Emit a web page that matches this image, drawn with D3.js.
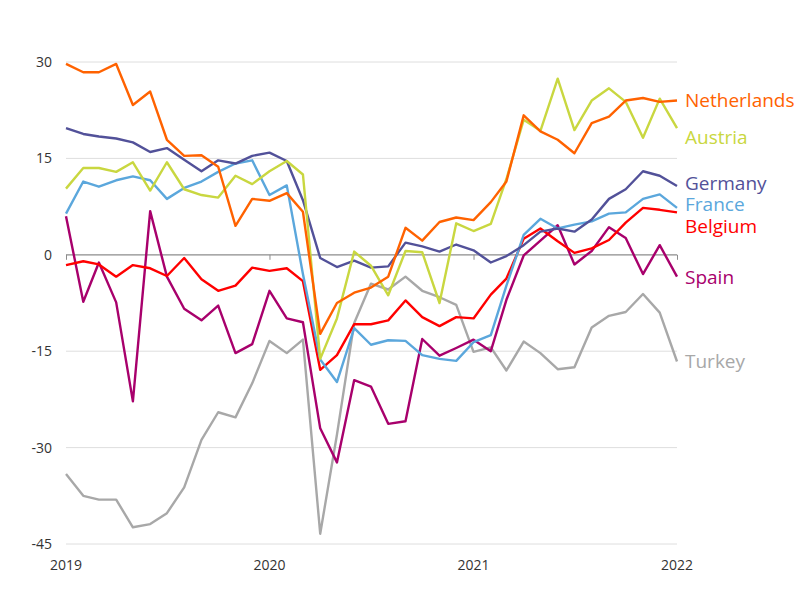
<!DOCTYPE html>
<html>
<head>
<meta charset="utf-8">
<script src="https://cdn.jsdelivr.net/npm/d3@7"></script>
<style>
  body { margin: 0; background: #fff; }
  text { font-family: "Open Sans", "Noto Sans", sans-serif; }
</style>
</head>
<body>
<script>
var width = 800,
    height = 606,
    margin = {top: 62, right: 123, bottom: 62, left: 66};

// monthly, Jan 2019 .. Jan 2022
var months = d3.range(37).map(function(i) { return new Date(2019, i, 1); });

var netherlands = [29.7, 28.4, 28.4, 29.7, 23.3, 25.4, 17.9, 15.4, 15.5, 13.7, 4.5, 8.7, 8.4,
                   9.6, 6.7, -12.3, -7.5, -5.9, -5.1, -3.4, 4.2, 2.2, 5.1, 5.8, 5.4,
                   8.2, 11.4, 21.7, 19.2, 17.9, 15.8, 20.5, 21.5, 24.0, 24.4, 23.8, 24.0];
var austria = [10.3, 13.5, 13.5, 12.9, 14.4, 10.0, 14.4, 10.2, 9.3, 8.9, 12.3, 11.0, 13.0,
               14.6, 12.5, -16.2, -9.9, 0.5, -1.7, -6.3, 0.6, 0.4, -7.5, 4.9, 3.7,
               4.8, 11.8, 21.0, 19.3, 27.4, 19.4, 24.0, 25.9, 23.8, 18.2, 24.3, 19.7];
var germany = [19.7, 18.8, 18.4, 18.1, 17.5, 16.0, 16.6, 14.8, 13.0, 14.7, 14.2, 15.4, 15.9,
               14.6, 8.5, -0.5, -1.9, -0.9, -2.0, -1.8, 1.9, 1.3, 0.5, 1.6, 0.7,
               -1.2, -0.2, 1.5, 3.6, 4.1, 3.6, 5.5, 8.7, 10.2, 13.0, 12.3, 10.7];
var france = [6.4, 11.4, 10.6, 11.6, 12.2, 11.6, 8.7, 10.4, 11.4, 12.9, 14.2, 14.7, 9.3,
              10.8, -3.0, -16.3, -19.8, -11.4, -14.0, -13.3, -13.4, -15.6, -16.2, -16.5, -13.6,
              -12.5, -4.8, 3.1, 5.6, 4.1, 4.7, 5.2, 6.4, 6.6, 8.7, 9.4, 7.3];
var belgium = [-1.6, -1.0, -1.5, -3.4, -1.6, -2.1, -3.3, -0.5, -3.8, -5.6, -4.8, -2.0, -2.5,
               -2.1, -4.1, -17.9, -15.6, -10.8, -10.8, -10.2, -7.1, -9.7, -11.1, -9.7, -9.9,
               -6.2, -3.7, 2.5, 4.1, 2.1, 0.3, 1.0, 2.3, 5.0, 7.3, 7.0, 6.6];
var spain = [6.0, -7.3, -1.2, -7.4, -22.8, 6.8, -3.4, -8.4, -10.2, -7.9, -15.3, -13.9, -5.6,
             -9.9, -10.5, -27.0, -32.3, -19.5, -20.5, -26.3, -25.9, -13.1, -15.7, -14.5, -13.2,
             -15.0, -7.0, -0.1, 2.2, 4.6, -1.5, 0.6, 4.3, 2.6, -3.0, 1.5, -3.4];
var turkey = [-34.1, -37.5, -38.1, -38.1, -42.4, -41.9, -40.2, -36.2, -28.8, -24.5, -25.3, -20.0, -13.4,
              -15.3, -13.2, -43.4, -28.0, -10.6, -4.5, -5.4, -3.4, -5.6, -6.6, -7.8, -15.1,
              -14.4, -18.0, -13.5, -15.3, -17.8, -17.5, -11.3, -9.5, -8.9, -6.1, -9.0, -16.6];

var yTicks = [30, 15, 0, -15, -30, -45];
var yearTicks = [2019, 2020, 2021, 2022];

var series = [
  {name: "Netherlands", values: netherlands, color: "#ff6200", labelY: 100},
  {name: "Austria",     values: austria,     color: "#c9d740", labelY: 137},
  {name: "Germany",     values: germany,     color: "#525199", labelY: 183},
  {name: "France",      values: france,      color: "#5ba7dc", labelY: 204},
  {name: "Belgium",     values: belgium,     color: "#ff0000", labelY: 226},
  {name: "Spain",       values: spain,       color: "#a8006c", labelY: 277},
  {name: "Turkey",      values: turkey,      color: "#a8a8a8", labelY: 361}
];

var svg = d3.select("body")
            .append("svg")
            .attr("width", width)
            .attr("height", height);

var x = d3.scaleTime()
          .domain([months[0], months[months.length - 1]])
          .range([margin.left, width - margin.right]);

var y = d3.scaleLinear()
          .domain([-45, 30])
          .range([544, 62]);

// gridlines
svg.append("g")
   .selectAll("line")
   .data(yTicks)
   .enter().append("line")
   .attr("x1", x.range()[0])
   .attr("x2", x.range()[1])
   .attr("y1", function(d) { return y(d); })
   .attr("y2", function(d) { return y(d); })
   .attr("stroke", function(d) { return d === 0 ? "#8c8c8c" : "#dedede"; })
   .attr("stroke-width", function(d) { return d === 0 ? 1.2 : 1; });

// y labels
svg.append("g")
   .selectAll("text")
   .data(yTicks)
   .enter().append("text")
   .attr("x", 52)
   .attr("y", function(d) { return y(d); })
   .attr("dy", "0.35em")
   .attr("text-anchor", "end")
   .attr("font-size", 14)
   .attr("fill", "#333")
   .text(function(d) { return d; });

// year ticks on zero line
var xAxis = d3.axisBottom(x)
              .tickValues(yearTicks.map(function(yr) { return new Date(yr, 0, 1); }))
              .tickSize(5)
              .tickFormat("");

svg.append("g")
   .attr("transform", "translate(0," + y(0) + ")")
   .call(xAxis)
   .call(function(g) {
     g.select(".domain").remove();
     g.selectAll(".tick line").attr("stroke", "#8c8c8c");
   });

// year labels
svg.append("g")
   .selectAll("text")
   .data(yearTicks)
   .enter().append("text")
   .attr("x", function(d) { return x(new Date(d, 0, 1)); })
   .attr("y", 570)
   .attr("text-anchor", "middle")
   .attr("font-size", 14)
   .attr("fill", "#333")
   .text(function(d) { return d; });

var line = d3.line()
             .x(function(d, i) { return x(months[i]); })
             .y(function(d) { return y(d); });

// draw back to front
var order = ["Turkey", "Spain", "Belgium", "France", "Germany", "Austria", "Netherlands"];
svg.append("g")
   .selectAll("path")
   .data(order.map(function(n) { return series.find(function(s) { return s.name === n; }); }))
   .enter().append("path")
   .attr("d", function(d) { return line(d.values); })
   .attr("fill", "none")
   .attr("stroke", function(d) { return d.color; })
   .attr("stroke-width", 2.4)
   .attr("stroke-linejoin", "round");

svg.append("g")
   .selectAll("text")
   .data(series)
   .enter().append("text")
   .attr("x", 685)
   .attr("y", function(d) { return d.labelY; })
   .attr("dy", "0.35em")
   .attr("font-size", 19)
   .attr("fill", function(d) { return d.color; })
   .text(function(d) { return d.name; });
</script>
</body>
</html>
